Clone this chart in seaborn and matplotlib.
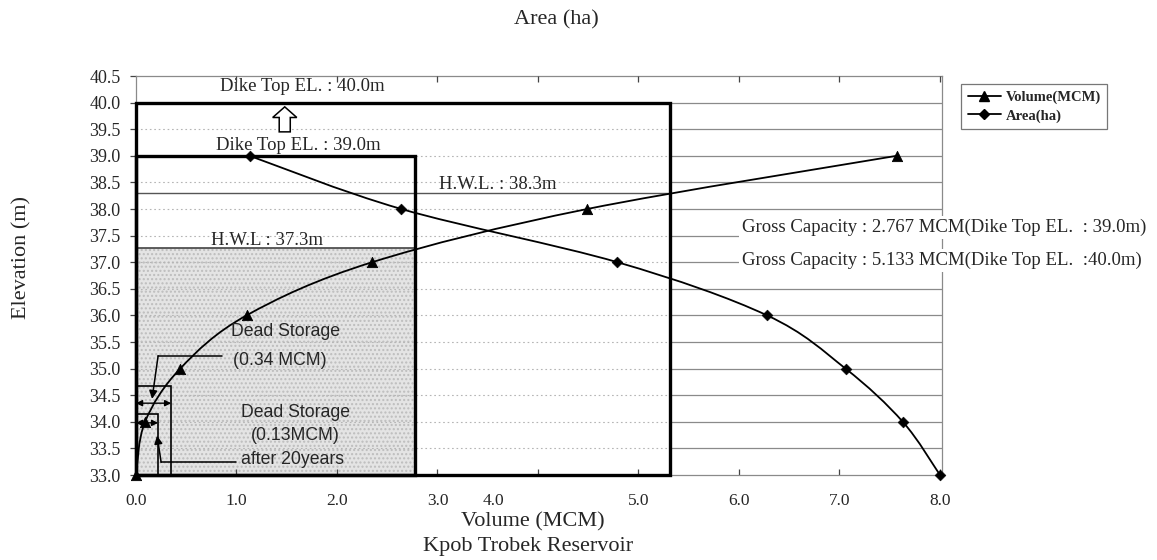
import numpy as np
import matplotlib
matplotlib.use("Agg")
import matplotlib.pyplot as plt
import matplotlib.transforms as mtransforms
import seaborn as sns
import pandas as pd
from matplotlib.path import Path
from matplotlib.patches import PathPatch, Rectangle, FancyArrow
from matplotlib.lines import Line2D

# ---------------- data ----------------
elevation = [33.0, 34.0, 35.0, 36.0, 37.0, 38.0, 39.0]
volume_mcm = [0.0, 0.09, 0.44, 1.10, 2.35, 4.49, 7.57]
area_ha = [8.0, 7.63, 7.06, 6.28, 4.79, 2.64, 1.13]   # plotted on the (unlabelled) top area axis

x_ticks = [0.0, 1.0, 2.0, 3.0, 4.0, 5.0, 6.0, 7.0, 8.0]
y_ticks = [33.0, 33.5, 34.0, 34.5, 35.0, 35.5, 36.0, 36.5, 37.0, 37.5,
           38.0, 38.5, 39.0, 39.5, 40.0, 40.5]

dike_tops = [39.0, 40.0]          # m
dike_box_volume = [2.78, 5.31]    # MCM extent of capacity boxes
hwl_levels = [37.27, 38.3]        # m
dead_box_volume = [0.22, 0.35]    # MCM
dead_box_top = [34.15, 34.67]     # m

series_labels = ["Volume(MCM)", "Area(ha)"]

# ---------------- style ----------------
sns.set_theme(style="white")
plt.rcParams["font.family"] = ["Liberation Serif", "DejaVu Serif"]
SANS = ["Liberation Sans", "DejaVu Sans"]

fig = plt.figure(figsize=(11.57, 5.6), dpi=100)
ax = fig.add_axes([136 / 1157, 1 - 475 / 560, (942 - 136) / 1157, (475 - 76) / 560])
ax.set_facecolor("white")

xmin, xmax = 0.0, 8.02
ax.set_xlim(xmin, xmax)
ax.set_ylim(y_ticks[0], y_ticks[-1])

# shaded storage below lower H.W.L.
ax.add_patch(Rectangle((0, y_ticks[0]), dike_box_volume[0], hwl_levels[0] - y_ticks[0],
                       facecolor="#e4e4e4", edgecolor="#bdbdbd", hatch="....",
                       lw=0, zorder=0.5))

# gridlines: dotted inside the big box, solid to its right
for y in y_ticks[1:-1]:
    ax.plot([0, dike_box_volume[1]], [y, y], color="#b5b5b5", lw=0.8,
            ls=(0, (1.5, 2.5)), zorder=1)
    ax.plot([dike_box_volume[1], xmax], [y, y], color="#8a8a8a", lw=0.9, zorder=1)

# H.W.L lines
ax.plot([0, dike_box_volume[0]], [hwl_levels[0]] * 2, color="#333333", lw=1.1, zorder=2)
ax.plot([0, dike_box_volume[1]], [hwl_levels[1]] * 2, color="#555555", lw=1.0, zorder=2)

# capacity boxes
for w, top in zip(dike_box_volume, dike_tops):
    ax.add_patch(Rectangle((0, y_ticks[0]), w, top - y_ticks[0], fill=False,
                           edgecolor="black", lw=2.4, zorder=3, clip_on=False))
# dead storage boxes
for w, top in zip(dead_box_volume, dead_box_top):
    ax.add_patch(Rectangle((0, y_ticks[0]), w, top - y_ticks[0], fill=False,
                           edgecolor="black", lw=1.2, zorder=3, clip_on=False))


def smooth_path(xs, ys):
    pts = np.column_stack([xs, ys]).astype(float)
    n = len(pts)
    verts = [pts[0]]
    codes = [Path.MOVETO]
    for i in range(n - 1):
        p0 = pts[max(i - 1, 0)]
        p1 = pts[i]
        p2 = pts[i + 1]
        p3 = pts[min(i + 2, n - 1)]
        verts += [p1 + (p2 - p0) / 6.0, p2 - (p3 - p1) / 6.0, p2]
        codes += [Path.CURVE4] * 3
    return Path(verts, codes)


ax.add_patch(PathPatch(smooth_path(volume_mcm, elevation), fill=False,
                       edgecolor="black", lw=1.3, zorder=4))
ax.add_patch(PathPatch(smooth_path(area_ha, elevation), fill=False,
                       edgecolor="black", lw=1.3, zorder=4))

df = pd.DataFrame({"elev": elevation, "vol": volume_mcm, "area": area_ha})
sns.scatterplot(data=df, x="vol", y="elev", marker="^", s=55, color="black",
                edgecolor="black", ax=ax, zorder=5, legend=False, clip_on=False)
sns.scatterplot(data=df, x="area", y="elev", marker="D", s=30, color="black",
                edgecolor="black", ax=ax, zorder=5, legend=False, clip_on=False)

# ---------------- axes ----------------
for s in ax.spines.values():
    s.set_color("#8a8a8a")
    s.set_linewidth(0.9)
ax.set_xticks(x_ticks)
ax.set_yticks(y_ticks)
ax.set_xticklabels([f"{v:.1f}" for v in x_ticks])
ax.set_yticklabels([f"{v:.1f}" for v in y_ticks])
ax.tick_params(axis="x", direction="in", length=4, color="#444444", width=0.9,
               labelsize=12.5, pad=13, bottom=True)
ax.tick_params(axis="y", direction="out", length=4, color="#444444", width=0.9,
               labelsize=13, pad=7, left=True)
# the "4.0" label sits shifted left in the original print
lbl4 = ax.get_xticklabels()[4]
lbl4.set_transform(lbl4.get_transform() +
                   mtransforms.ScaledTranslation(-45 / 100, 0, fig.dpi_scale_trans))
ax.set_xlabel("")
ax.set_ylabel("")
ax.grid(False)

ax_top = ax.twiny()
ax_top.set_xlim(ax.get_xlim())
ax_top.set_xticks(x_ticks[1:])
ax_top.set_xticklabels([])
ax_top.tick_params(axis="x", direction="in", length=4, color="#444444", width=0.9, top=True)
for s in ax_top.spines.values():
    s.set_visible(False)

# ---------------- annotations ----------------
FS = 13.5
ax.text(1.65, 40.30, "Dike Top EL. : 40.0m", ha="center", va="center", fontsize=FS, zorder=6)
ax.text(1.62, 39.19, "Dike Top EL. : 39.0m", ha="center", va="center", fontsize=FS, zorder=6)
ax.text(1.30, 37.40, "H.W.L : 37.3m", ha="center", va="center", fontsize=FS, zorder=6)
ax.text(3.60, 38.46, "H.W.L. : 38.3m", ha="center", va="center", fontsize=FS, zorder=6)
ax.add_patch(FancyArrow(1.48, 39.45, 0, 0.47, width=0.11, head_width=0.24,
                        head_length=0.2, length_includes_head=True,
                        facecolor="white", edgecolor="black", lw=1.1, zorder=6))

bb = dict(facecolor="white", edgecolor="none", pad=2)
ax.text(6.03, 37.66, "Gross Capacity : 2.767 MCM(Dike Top EL.  : 39.0m)", ha="left",
        va="center", fontsize=FS, bbox=bb, clip_on=False, zorder=7)
ax.text(6.03, 37.03, "Gross Capacity : 5.133 MCM(Dike Top EL.  :40.0m)", ha="left",
        va="center", fontsize=FS, bbox=bb, clip_on=False, zorder=7)

FSS = 12.7
ax.text(1.49, 35.69, "Dead Storage", ha="center", va="center", fontsize=FSS, family=SANS, zorder=6)
ax.text(1.43, 35.16, "(0.34 MCM)", ha="center", va="center", fontsize=FSS, family=SANS, zorder=6)
ax.text(1.59, 34.17, "Dead Storage", ha="center", va="center", fontsize=FSS, family=SANS, zorder=6)
ax.text(1.59, 33.75, "(0.13MCM)", ha="center", va="center", fontsize=FSS, family=SANS, zorder=6)
ax.text(1.56, 33.30, "after 20years", ha="center", va="center", fontsize=FSS, family=SANS, zorder=6)

# leaders
ax.plot([0.22, 0.86], [35.24, 35.24], color="black", lw=1.1, zorder=6)
ax.annotate("", xy=(0.16, 34.43), xytext=(0.22, 35.24),
            arrowprops=dict(arrowstyle="-|>", color="black", lw=1.1, mutation_scale=12,
                            shrinkA=0, shrinkB=0), zorder=6)
ax.plot([0.25, 1.0], [33.24, 33.24], color="black", lw=1.1, zorder=6)
ax.annotate("", xy=(0.21, 33.74), xytext=(0.25, 33.24),
            arrowprops=dict(arrowstyle="-|>", color="black", lw=1.1, mutation_scale=12,
                            shrinkA=0, shrinkB=0), zorder=6)
ax.annotate("", xy=(0.0, 34.35), xytext=(dead_box_volume[1], 34.35),
            arrowprops=dict(arrowstyle="<|-|>", color="black", lw=1.0, mutation_scale=9,
                            shrinkA=0, shrinkB=0), zorder=6)
ax.annotate("", xy=(0.0, 33.98), xytext=(dead_box_volume[0], 33.98),
            arrowprops=dict(arrowstyle="<|-|>", color="black", lw=1.0, mutation_scale=9,
                            shrinkA=0, shrinkB=0), zorder=6)

# ---------------- titles ----------------
fig.text(556 / 1157, 1 - 20 / 560, "Area (ha)", ha="center", va="center", fontsize=16)
fig.text(533 / 1157, 1 - 522 / 560, "Volume (MCM)", ha="center", va="center", fontsize=16)
fig.text(633 / 1157, 1 - 547 / 560, "Kpob Trobek Reservoir", ha="right", va="center", fontsize=16)
fig.text(22 / 1157, 1 - 258 / 560, "Elevation (m)", ha="center", va="center",
         rotation=90, fontsize=16)

# ---------------- legend ----------------
handles = [Line2D([], [], color="black", marker="^", markersize=6.5, lw=1.3),
           Line2D([], [], color="black", marker="D", markersize=5, lw=1.3)]
leg = fig.legend(handles, series_labels, loc="upper left",
                 bbox_to_anchor=(961 / 1157, 1 - 84 / 560), frameon=True, fancybox=False,
                 edgecolor="#555555", prop={"weight": "bold", "size": 10.5},
                 handlelength=2.3, borderaxespad=0, borderpad=0.45, labelspacing=0.35,
                 handletextpad=0.3)
leg.get_frame().set_linewidth(0.9)

fig.savefig("out.png", dpi=100, facecolor="white")
